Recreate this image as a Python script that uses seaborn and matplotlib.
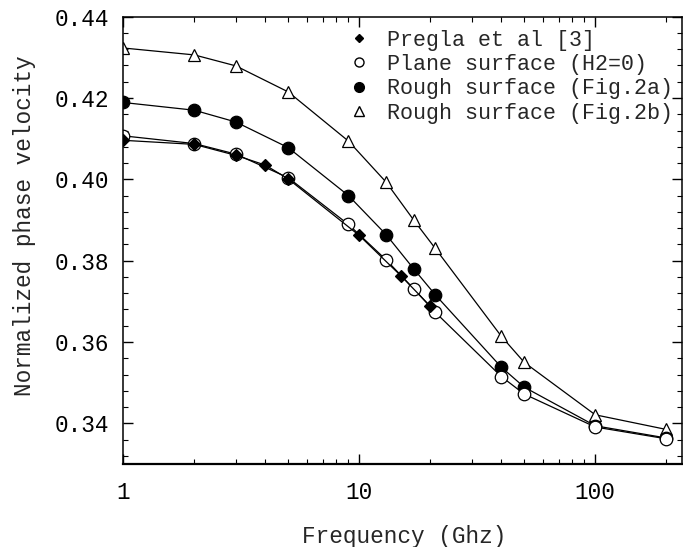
import matplotlib
matplotlib.use('Agg')
import matplotlib.pyplot as plt
import matplotlib.ticker as ticker
from matplotlib.lines import Line2D
import seaborn as sns
import pandas as pd

# Dados
FREQ = [1, 2, 3, 5, 9, 13, 17, 21, 40, 50, 100, 200]
V_FIG2B = [0.4323, 0.4306, 0.4279, 0.4215, 0.4094, 0.3993, 0.3900, 0.3830,
           0.3614, 0.3550, 0.3421, 0.3385]
V_FIG2A = [0.4189, 0.4170, 0.4141, 0.4078, 0.3960, 0.3864, 0.3780, 0.3716,
           0.3538, 0.3489, 0.3394, 0.3364]
V_PLANE = [0.4107, 0.4088, 0.4062, 0.4004, 0.3889, 0.3802, 0.3731, 0.3673,
           0.3515, 0.3472, 0.3391, 0.3362]
FREQ_PREGLA = [1, 2, 3, 4, 5, 10, 15, 20]
V_PREGLA = [0.4096, 0.4086, 0.4059, 0.4035, 0.4001, 0.3862, 0.3763, 0.3688]

LABELS = ['Pregla et al [3]', 'Plane surface (H2=0)',
          'Rough surface (Fig.2a)', 'Rough surface (Fig.2b)']
X_TICKS = [1, 10, 100]
Y_TICKS = [0.34, 0.36, 0.38, 0.40, 0.42, 0.44]

sns.set_style("ticks")
plt.rcParams['font.family'] = ['Liberation Mono', 'DejaVu Sans Mono']

FS = 16.4
FS_LEG = 15.6

fig = plt.figure(figsize=(6.83, 5.47), dpi=100)
ax = fig.add_axes([0.1805, 0.1517, 0.8180, 0.8178])

# estilos: (x, y, marcador, preenchimento, tamanho)
series = [
    (FREQ, V_FIG2B, '^', 'white', 8.5),
    (FREQ, V_FIG2A, 'o', 'black', 9),
    (FREQ, V_PLANE, 'o', 'white', 9),
    (FREQ_PREGLA, V_PREGLA, 'D', 'black', 6.3),
]
for xs, ys, mk, fc, ms in series:
    df = pd.DataFrame({'f': xs, 'v': ys})
    sns.lineplot(data=df, x='f', y='v', ax=ax, color='black', linewidth=0.9,
                 marker=mk, markerfacecolor=fc, markeredgecolor='black',
                 markeredgewidth=0.9, markersize=ms, legend=False)

ax.set_xscale('log')
ax.set_xlim(1, 233)
ax.set_ylim(0.33, 0.44)
ax.set_xticks(X_TICKS)
ax.xaxis.set_major_formatter(ticker.FuncFormatter(lambda x, p: f'{x:g}'))
ax.xaxis.set_minor_locator(ticker.LogLocator(base=10, subs=range(2, 10)))
ax.xaxis.set_minor_formatter(ticker.NullFormatter())
ax.set_yticks(Y_TICKS)
ax.yaxis.set_major_formatter(ticker.FormatStrFormatter('%.2f'))
ax.yaxis.set_minor_locator(ticker.MultipleLocator(0.004))

ax.tick_params(which='both', direction='in', top=True, right=True,
               colors='black', labelsize=FS)
ax.tick_params(which='major', length=7, width=1)
ax.tick_params(which='minor', length=3.5, width=0.8)
ax.tick_params(axis='x', which='major', pad=12)
ax.tick_params(axis='y', which='major', pad=10)
for s in ax.spines.values():
    s.set_color('black')
    s.set_linewidth(1.1)
ax.spines['bottom'].set_linewidth(1.6)

ax.set_xlabel('Frequency (Ghz)', fontsize=FS, va='center')
ax.set_ylabel('Normalized phase velocity', fontsize=FS, va='center', ha='center')
ax.xaxis.set_label_coords(0.502, -0.161)
ax.yaxis.set_label_coords(-0.176, 0.532)

handles = [
    Line2D([], [], ls='none', marker='D', mfc='black', mec='black', ms=4.5),
    Line2D([], [], ls='none', marker='o', mfc='white', mec='black', ms=6.5),
    Line2D([], [], ls='none', marker='o', mfc='black', mec='black', ms=7),
    Line2D([], [], ls='none', marker='^', mfc='white', mec='black', ms=6.5),
]
fig.legend(handles, LABELS, loc='upper left', bbox_to_anchor=(0.510, 0.946),
           frameon=False, fontsize=FS_LEG, borderpad=0, handlelength=1.0,
           handletextpad=0.8, labelspacing=0.16, borderaxespad=0)

plt.savefig('out.png', dpi=100)
plt.close(fig)
